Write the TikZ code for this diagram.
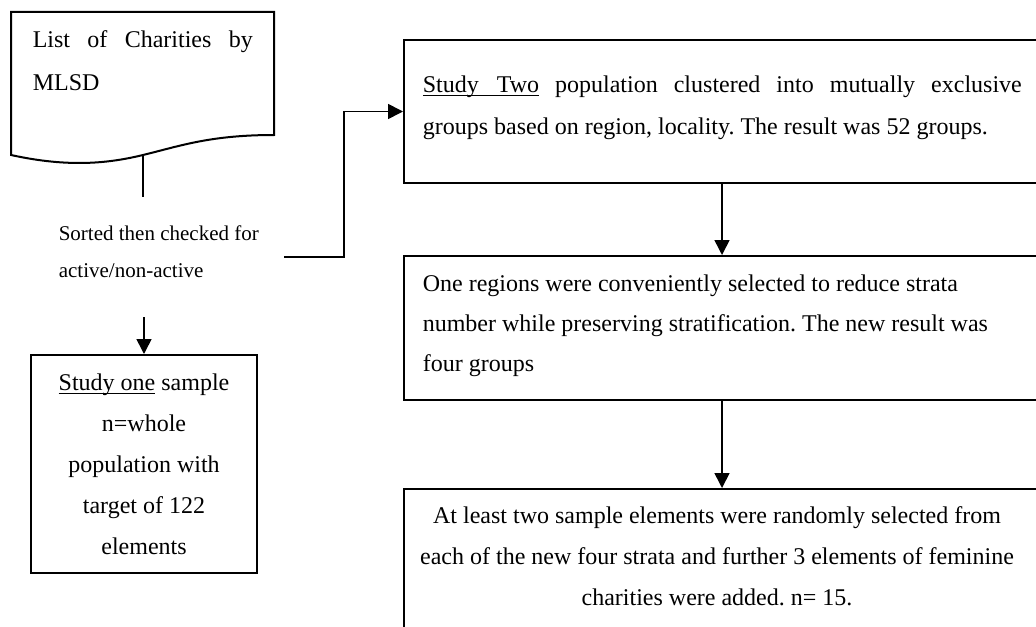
\documentclass[tikz,border=0pt]{standalone}
\usepackage{fontspec}
\setmainfont{Liberation Serif}
\usetikzlibrary{arrows.meta, positioning}
\tikzset{>={Triangle[length=7.5pt, width=7.5pt]}}
\newcommand{\studyname}[1]{\underline{\smash{#1}}}
\frenchspacing

\begin{document}
\begin{tikzpicture}[x=0.5pt, y=-0.5pt, line width=0.8pt,
    flowbox/.style={draw, line width=1pt, inner sep=0pt},
    flowtext/.style={inner sep=0pt, font=\fontsize{12pt}{20.5pt}\selectfont}]
  \useasboundingbox (0,0) rectangle (1036,626);
  \clip (0,0) rectangle (1036,626);
  % list of charities (document shape)
  \draw[line width=1pt] (11,12) -- (274,12) -- (274,135)
    .. controls (210,135) and (180,146) .. (143,155)
    .. controls (110,163) and (70,168) .. (11,155) -- cycle;
  \node[flowtext, anchor=north west, text width=110pt, align=justify,
    font=\fontsize{12pt}{21.5pt}\selectfont] (doctxt) at (32,30) {List of Charities by\linebreak MLSD};
  \coordinate (docbot) at (143,155);
  \coordinate (stemend) at (143,197);
  \draw (docbot) -- (stemend);
  % sorting step
  \node[flowtext, anchor=north west, align=left,
    font=\fontsize{10.5pt}{18.5pt}\selectfont] (sorttxt) at (58,225) {Sorted then checked for\\active/non-active};
  \coordinate (sortout) at (284,257);
  \coordinate (sortdown) at (144,317);
  % study one
  \node[flowbox, minimum width=113pt, minimum height=109pt] (onebox) at (144,464) {};
  \node[flowtext, anchor=north, align=center] (onetxt) at (144,373) {\studyname{Study one} sample\\n=whole\\population with\\target of 122\\elements};
  % study two
  \node[flowbox, minimum width=318pt, minimum height=71.5pt] (twobox) at (722,111.5) {};
  \node[flowtext, anchor=north west, text width=299.5pt, align=justify,
    font=\fontsize{12pt}{21pt}\selectfont] (twotxt) at (422,75) {\studyname{Study\hspace{9pt}Two} population clustered into mutually exclusive\linebreak groups based on region, locality. The result was 52 groups.};
  \node[flowbox, minimum width=318pt, minimum height=72pt] (regbox) at (722,328) {};
  \node[flowtext, anchor=north west, align=left,
    font=\fontsize{12pt}{20pt}\selectfont] (regtxt) at (422,274) {One regions were conveniently selected to reduce strata\\number while preserving stratification. The new result was\\four groups};
  \node[flowbox, minimum width=318pt, minimum height=76pt] (sampbox) at (722,565) {};
  \node[flowtext, anchor=north, align=center] (samptxt) at (717,506) {At least two sample elements were randomly selected from\\each of the new four strata and further 3 elements of feminine\\charities were added. n= 15.};
  % connectors
  \draw[->] (sortdown) -- (onebox.north);
  \draw[->] (sortout) -- ++(60,0) |- (twobox.west);
  \draw[->] (twobox.south) -- (regbox.north);
  \draw[->] (regbox.south) -- (sampbox.north);
\end{tikzpicture}
\end{document}
